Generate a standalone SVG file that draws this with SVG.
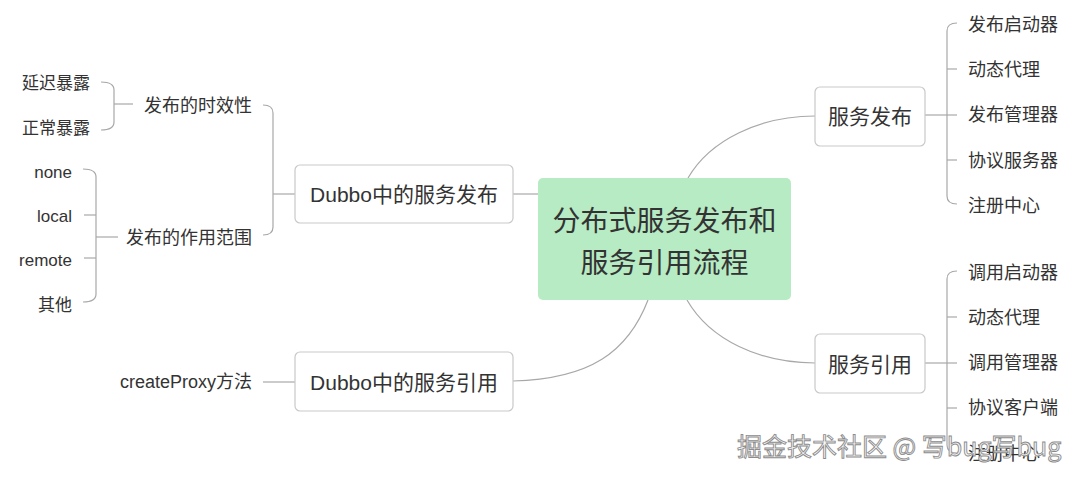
<svg xmlns="http://www.w3.org/2000/svg" width="1080" height="482" viewBox="0 0 1080 482">
<style>
.t{font-family:"Liberation Sans","Noto Sans CJK SC",sans-serif;fill:#333;dominant-baseline:central}
.leaf{font-size:17px}
.rleaf{font-size:18px}
.mid{font-size:18px}
.node{font-size:21px;text-anchor:middle}
.box{fill:#fff;stroke:#c9c9c9;stroke-width:1.2}
.ln{fill:none;stroke:#a8a8a8;stroke-width:1.2}
.wm{font-family:"Noto Sans CJK SC","Liberation Sans",sans-serif;font-size:25px;fill:#f7f7f7;stroke:#8c8c8c;stroke-width:0.9}
</style>
<rect width="1080" height="482" fill="#fff"/>
<g id="connectors">
  <path class="ln" d="M513,194 L538,194"/>
  <path class="ln" d="M513,381 C590,379 628,352 648,300"/>
  <path class="ln" d="M688,178 C710,140 760,116 815,116"/>
  <path class="ln" d="M687,300 C710,340 760,363 815,363"/>
  <path class="ln" d="M295,194 L273,194"/>
  <path class="ln" d="M263,105 Q273,105 273,113 L273,227 Q273,235 263,235"/>
  <path class="ln" d="M133,104 L114,104"/>
  <path class="ln" d="M101,82 Q114,82 114,90 L114,122 Q114,130 101,130"/>
  <path class="ln" d="M118,237 L96,237"/>
  <path class="ln" d="M83,169 Q96,169 96,177 L96,294 Q96,302 83,302"/>
  <path class="ln" d="M96,215 L84,215"/>
  <path class="ln" d="M96,258 L84,258"/>
  <path class="ln" d="M263,382 L295,382"/>
  <path class="ln" d="M925,115 L957,115"/>
  <path class="ln" d="M957,23 Q947,23 947,31 L947,196 Q947,204 957,204"/>
  <path class="ln" d="M947,69 L957,69"/>
  <path class="ln" d="M947,160 L957,160"/>
  <path class="ln" d="M925,363 L957,363"/>
  <path class="ln" d="M957,271 Q947,271 947,279 L947,445 Q947,453 957,453"/>
  <path class="ln" d="M947,317 L957,317"/>
  <path class="ln" d="M947,408 L957,408"/>
</g>
<g id="center">
  <rect x="538" y="178" width="253" height="122" rx="5" fill="#b7ebc3"/>
  <text class="t" x="664.5" y="221" font-size="28" text-anchor="middle">分布式服务发布和</text>
  <text class="t" x="664.5" y="263" font-size="28" text-anchor="middle">服务引用流程</text>
</g>
<g id="dubbo-publish">
  <rect class="box" x="295" y="165" width="218" height="58" rx="5"/>
  <text class="t node" x="404" y="194" font-size="21.5">Dubbo中的服务发布</text>
</g>
<g id="dubbo-reference">
  <rect class="box" x="295" y="352" width="218" height="59" rx="5"/>
  <text class="t node" x="404" y="382" font-size="21.5">Dubbo中的服务引用</text>
</g>
<g id="service-publish">
  <rect class="box" x="815" y="87" width="110" height="59" rx="5"/>
  <text class="t node" x="870" y="116">服务发布</text>
</g>
<g id="service-reference">
  <rect class="box" x="815" y="334" width="110" height="59" rx="5"/>
  <text class="t node" x="870" y="364">服务引用</text>
</g>
<g id="left-mid">
  <text class="t mid" x="252" y="106" text-anchor="end">发布的时效性</text>
  <text class="t mid" x="252" y="238" text-anchor="end">发布的作用范围</text>
  <text class="t mid" x="252" y="382" text-anchor="end" font-size="17.5">createProxy方法</text>
</g>
<g id="left-leaves">
  <text class="t leaf" x="90" y="83" text-anchor="end">延迟暴露</text>
  <text class="t leaf" x="90" y="128" text-anchor="end">正常暴露</text>
  <text class="t leaf" x="72" y="172" text-anchor="end" font-size="17.5">none</text>
  <text class="t leaf" x="72" y="216" text-anchor="end" font-size="17.5">local</text>
  <text class="t leaf" x="72" y="260" text-anchor="end" font-size="17.5">remote</text>
  <text class="t leaf" x="72" y="305" text-anchor="end">其他</text>
</g>
<g id="right-top-leaves">
  <text class="t rleaf" x="968" y="25">发布启动器</text>
  <text class="t rleaf" x="968" y="70">动态代理</text>
  <text class="t rleaf" x="968" y="115">发布管理器</text>
  <text class="t rleaf" x="968" y="161">协议服务器</text>
  <text class="t rleaf" x="968" y="206">注册中心</text>
</g>
<g id="right-bottom-leaves">
  <text class="t rleaf" x="968" y="273">调用启动器</text>
  <text class="t rleaf" x="968" y="318">动态代理</text>
  <text class="t rleaf" x="968" y="363">调用管理器</text>
  <text class="t rleaf" x="968" y="408">协议客户端</text>
  <text class="t rleaf" x="968" y="454">注册中心</text>
</g>
<g id="watermark">
  <text class="wm" x="737" y="456">掘金技术社区 @ 写bug写bug</text>
</g>
</svg>
